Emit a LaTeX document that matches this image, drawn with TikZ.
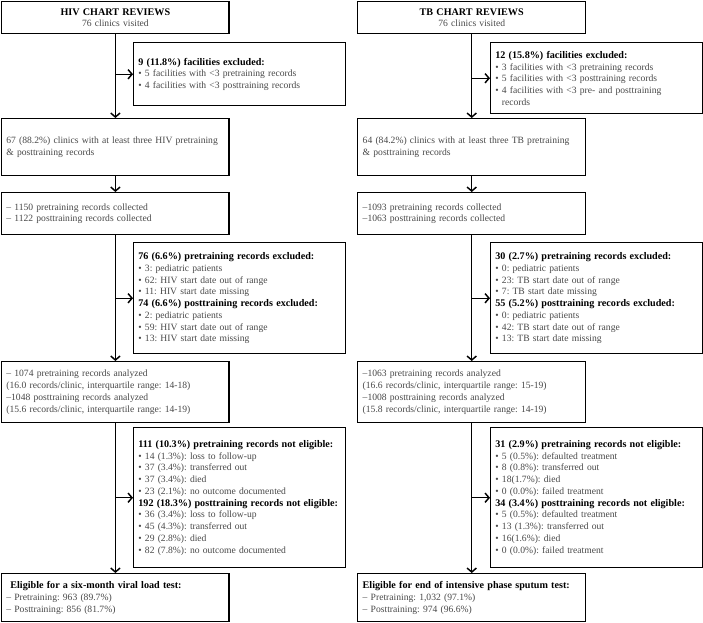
\documentclass[tikz,border=0pt]{standalone}
\usepackage{fontspec}
\setmainfont{Liberation Serif}
\usetikzlibrary{arrows.meta, positioning, calc}
\definecolor{bodygray}{RGB}{72, 72, 72}
\newcommand{\hd}[1]{\textcolor{black}{\fontsize{7.6}{8.8}\selectfont\textbf{#1}}}
\newcommand{\bul}{\textbullet{} }
\frenchspacing
\tikzset{
  chartbox/.style={draw, line width=1.1pt, anchor=north west, inner xsep=3.5pt, inner ysep=2pt,
    align=left, text=bodygray, font=\fontsize{7.2}{8.8}\selectfont\frenchspacing},
  mainbox/.style={chartbox, minimum width=170.5pt, text width=163.5pt},
  sidebox/.style={chartbox, minimum width=159pt, text width=152pt},
  flow/.style={line width=1.1pt, -{Straight Barb[length=3pt, width=7pt, line width=1.1pt]}}
}

\begin{document}
\begin{tikzpicture}[x=0.75pt, y=-0.75pt]
  \useasboundingbox (0,0) rectangle (703,622);

  % HIV column
  \node[mainbox, minimum height=24pt, align=center] (hivtitle) at (1,1) {\hd{HIV CHART REVIEWS}\\76 clinics visited};
  \node[sidebox, minimum height=47.25pt] (hivexcl) at (133,42) {
    \hd{9 (11.8\%) facilities excluded:}\\
    \bul 5 facilities with <3 pretraining records\\
    \bul 4 facilities with <3 posttraining records};
  \node[mainbox, minimum height=42.75pt] (hivclin) at (1,118) {
    67 (88.2\%) clinics with at least three HIV pretraining\\
    \& posttraining records};
  \node[mainbox, minimum height=31.5pt] (hivrec) at (1,192) {
    -- 1150 pretraining records collected\\
    -- 1122 posttraining records collected};
  \node[sidebox, minimum height=83.25pt] (hivinv) at (133,242) {
    \hd{76 (6.6\%) pretraining records excluded:}\\
    \bul 3: pediatric patients\\
    \bul 62: HIV start date out of range\\
    \bul 11: HIV start date missing\\
    \hd{74 (6.6\%) posttraining records excluded:}\\
    \bul 2: pediatric patients\\
    \bul 59: HIV start date out of range\\
    \bul 13: HIV start date missing};
  \node[mainbox, minimum height=45.75pt] (hivana) at (1,361) {
    -- 1074 pretraining records analyzed\\
    (16.0 records/clinic, interquartile range: 14-18)\\
    --1048 posttraining records analyzed\\
    (15.6 records/clinic, interquartile range: 14-19)};
  \node[sidebox, minimum height=105pt] (hivnot) at (133,427) {
    \hd{111 (10.3\%) pretraining records not eligible:}\\
    \bul 14 (1.3\%): loss to follow-up\\
    \bul 37 (3.4\%): transferred out\\
    \bul 37 (3.4\%): died\\
    \bul 23 (2.1\%): no outcome documented\\
    \hd{192 (18.3\%) posttraining records not eligible:}\\
    \bul 36 (3.4\%): loss to follow-up\\
    \bul 45 (4.3\%): transferred out\\
    \bul 29 (2.8\%): died\\
    \bul 82 (7.8\%): no outcome documented};
  \node[mainbox, minimum height=36pt] (hivelig) at (1,573) {
    \hspace{3pt}\hd{Eligible for a six-month viral load test:}\\
    -- Pretraining: 963 (89.7\%)\\
    -- Posttraining: 856 (81.7\%)};

  % TB column
  \node[mainbox, minimum width=171pt, minimum height=24pt, align=center] (tbtitle) at (357,1) {\hd{TB CHART REVIEWS}\\76 clinics visited};
  \node[sidebox, minimum height=53.25pt] (tbexcl) at (490,42) {
    \hd{12 (15.8\%) facilities excluded:}\\
    \bul 3 facilities with <3 pretraining records\\
    \bul 5 facilities with <3 posttraining records\\
    \bul 4 facilities with <3 pre- and posttraining\\
    \phantom{\bul}records};
  \node[mainbox, minimum width=171pt, minimum height=42.75pt] (tbclin) at (357,118) {
    64 (84.2\%) clinics with at least three TB pretraining\\
    \& posttraining records};
  \node[mainbox, minimum width=171pt, minimum height=31.5pt] (tbrec) at (357,192) {
    --1093 pretraining records collected\\
    --1063 posttraining records collected};
  \node[sidebox, minimum height=83.25pt] (tbinv) at (490,242) {
    \hd{30 (2.7\%) pretraining records excluded:}\\
    \bul 0: pediatric patients\\
    \bul 23: TB start date out of range\\
    \bul 7: TB start date missing\\
    \hd{55 (5.2\%) posttraining records excluded:}\\
    \bul 0: pediatric patients\\
    \bul 42: TB start date out of range\\
    \bul 13: TB start date missing};
  \node[mainbox, minimum width=171pt, minimum height=45.75pt] (tbana) at (357,361) {
    --1063 pretraining records analyzed\\
    (16.6 records/clinic, interquartile range: 15-19)\\
    --1008 posttraining records analyzed\\
    (15.8 records/clinic, interquartile range: 14-19)};
  \node[sidebox, minimum height=105pt] (tbnot) at (490,427) {
    \hd{31 (2.9\%) pretraining records not eligible:}\\
    \bul 5 (0.5\%): defaulted treatment\\
    \bul 8 (0.8\%): transferred out\\
    \bul 18(1.7\%): died\\
    \bul 0 (0.0\%): failed treatment\\
    \hd{34 (3.4\%) posttraining records not eligible:}\\
    \bul 5 (0.5\%): defaulted treatment\\
    \bul 13 (1.3\%): transferred out\\
    \bul 16(1.6\%): died\\
    \bul 0 (0.0\%): failed treatment};
  \node[mainbox, minimum width=171pt, minimum height=36pt] (tbelig) at (357,573) {
    \hd{Eligible for end of intensive phase sputum test:}\\
    -- Pretraining: 1,032 (97.1\%)\\
    -- Posttraining: 974 (96.6\%)};

  % connectors
  \foreach \col in {hiv, tb} {
    \draw[flow] (\col title.south) -- (\col clin.north);
    \draw[flow] (\col title.south |- \col excl.west) -- (\col excl.west);
    \draw[flow] (\col clin.south) -- (\col rec.north);
    \draw[flow] (\col rec.south) -- (\col ana.north);
    \draw[flow] (\col rec.south |- \col inv.west) -- (\col inv.west);
    \draw[flow] (\col ana.south) -- (\col elig.north);
    \draw[flow] (\col ana.south |- \col not.west) -- (\col not.west);
  }
\end{tikzpicture}
\end{document}
